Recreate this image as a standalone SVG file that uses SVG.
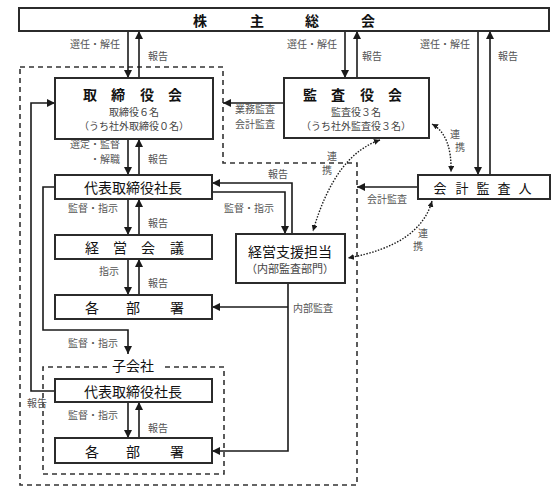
<svg xmlns="http://www.w3.org/2000/svg" width="556" height="493" viewBox="0 0 556 493">
<defs>
<marker id="ah" markerUnits="userSpaceOnUse" markerWidth="9" markerHeight="8" refX="8" refY="4" orient="auto"><path d="M0,0 L8,4 L0,8 z" fill="#1a1a1a"/></marker>
<marker id="dh" markerUnits="userSpaceOnUse" markerWidth="7" markerHeight="6" refX="6" refY="3" orient="auto-start-reverse"><path d="M0,0 L6,3 L0,6 z" fill="#1a1a1a"/></marker>
</defs>
<style>
.box{fill:#fff;stroke:#2b2b2b;stroke-width:2}
.ln{fill:none;stroke:#1a1a1a;stroke-width:1.6}
.ar{marker-end:url(#ah)}
.dash{fill:none;stroke:#333;stroke-width:1.6;stroke-dasharray:5 4}
.dot{fill:none;stroke:#1a1a1a;stroke-width:1.4;stroke-dasharray:1.5 1.5;marker-start:url(#dh);marker-end:url(#dh)}
text{font-family:"Noto Sans CJK JP","Noto Sans",sans-serif;dominant-baseline:central}
.lb{font-size:10px;fill:#555}
.t{font-size:14px;fill:#111;text-anchor:middle}
.tb{font-size:14px;fill:#111;font-weight:bold;text-anchor:middle}
.s{font-size:10px;fill:#444;text-anchor:middle}
.m{text-anchor:middle}
.e{text-anchor:end}
</style>
<g id="regions">
<path class="dash" d="M20,67 H223 V163 H357 V485 H20 Z"/>
<path class="dash" d="M107,367 H43 V474 H224 V367 H163"/>
<text class="t" x="133" y="365">子会社</text>
</g>
<g id="connectors">
<line class="ln ar" x1="128" y1="31" x2="128" y2="78"/>
<line class="ln ar" x1="139" y1="78" x2="139" y2="31"/>
<line class="ln ar" x1="128" y1="139" x2="128" y2="175"/>
<line class="ln ar" x1="139" y1="175" x2="139" y2="139"/>
<line class="ln ar" x1="128" y1="199" x2="128" y2="235"/>
<line class="ln ar" x1="139" y1="235" x2="139" y2="199"/>
<line class="ln ar" x1="128" y1="259" x2="128" y2="295"/>
<line class="ln ar" x1="139" y1="295" x2="139" y2="259"/>
<line class="ln ar" x1="345" y1="31" x2="345" y2="78"/>
<line class="ln ar" x1="357" y1="78" x2="357" y2="31"/>
<line class="ln ar" x1="478" y1="31" x2="478" y2="175"/>
<line class="ln ar" x1="490" y1="175" x2="490" y2="31"/>
<line class="ln ar" x1="284" y1="103" x2="223" y2="103"/>
<line class="ln ar" x1="418" y1="187" x2="357" y2="187"/>
<path class="ln ar" d="M55,391 H31 V103 H55"/>
<path class="ln ar" d="M55,187 H43 V330 H128 V354"/>
<path class="ln ar" d="M292,234 V183 H212"/>
<path class="ln ar" d="M212,192 H285 V234"/>
<path class="ln ar" d="M288,283 V451 H212"/>
<line class="ln ar" x1="288" y1="307" x2="212" y2="307"/>
<line class="ln ar" x1="128" y1="402" x2="128" y2="438"/>
<line class="ln ar" x1="139" y1="438" x2="139" y2="402"/>
<path class="dot" d="M432,124 Q452,135 451,172"/>
<path class="dot" d="M380,140 Q335,155 313,231"/>
<path class="dot" d="M432,201 Q420,245 348,258"/>
<text class="lb e" x="120" y="43">選任・解任</text>
<text class="lb" x="148" y="55">報告</text>
<text class="lb e" x="337" y="43">選任・解任</text>
<text class="lb" x="362" y="55">報告</text>
<text class="lb e" x="470" y="43">選任・解任</text>
<text class="lb" x="498" y="55">報告</text>
<text class="lb" x="235" y="108">業務監査</text>
<text class="lb" x="235" y="123">会計監査</text>
<text class="lb e" x="120" y="143">選定・監督</text>
<text class="lb e" x="120" y="158">・解職</text>
<text class="lb" x="148" y="158">報告</text>
<text class="lb e" x="118" y="207">監督・指示</text>
<text class="lb" x="148" y="222">報告</text>
<text class="lb e" x="119" y="270">指示</text>
<text class="lb" x="148" y="282">報告</text>
<text class="lb" x="268" y="173">報告</text>
<text class="lb" x="224" y="207">監督・指示</text>
<text class="lb" x="367" y="198">会計監査</text>
<text class="lb" x="293" y="307">内部監査</text>
<text class="lb m" x="455" y="133">連</text>
<text class="lb m" x="460" y="146">携</text>
<text class="lb m" x="332" y="155">連</text>
<text class="lb m" x="327" y="169">携</text>
<text class="lb m" x="423" y="232">連</text>
<text class="lb m" x="418" y="245">携</text>
<text class="lb e" x="118" y="342">監督・指示</text>
<text class="lb m" x="37" y="402">報告</text>
<text class="lb e" x="118" y="414">監督・指示</text>
<text class="lb" x="148" y="427">報告</text>
</g>
<g id="shareholders">
<rect class="box" x="19" y="8" width="530" height="23"/>
<text class="tb" x="200 257 312 368" y="19.5">株主総会</text>
</g>
<g id="board">
<rect class="box" x="55" y="78" width="158" height="61"/>
<text class="tb" x="90 118 147 175" y="94">取締役会</text>
<text class="s" x="134" y="111">取締役６名</text>
<text class="s" x="134" y="125">（うち社外取締役０名）</text>
</g>
<g id="auditors">
<rect class="box" x="284" y="78" width="145" height="60"/>
<text class="tb" x="310 338 367 395" y="94">監査役会</text>
<text class="s" x="356" y="111">監査役３名</text>
<text class="s" x="356" y="125">（うち社外監査役３名）</text>
</g>
<g id="president">
<rect class="box" x="55" y="175" width="157" height="24"/>
<text class="t" x="133" y="187">代表取締役社長</text>
</g>
<g id="accounting-auditor">
<rect class="box" x="418" y="175" width="132" height="24"/>
<text class="t" style="font-size:13px" x="440 462 483 504 525" y="187">会計監査人</text>
</g>
<g id="management-meeting">
<rect class="box" x="55" y="235" width="157" height="24"/>
<text class="t" x="92 120 148 177" y="247">経営会議</text>
</g>
<g id="support">
<rect class="box" x="236" y="234" width="109" height="49"/>
<text class="t" x="290" y="251">経営支援担当</text>
<text class="s" style="font-size:11px" x="290" y="268">（内部監査部門）</text>
</g>
<g id="departments">
<rect class="box" x="55" y="295" width="157" height="24"/>
<text class="t" x="92 133 177" y="307">各部署</text>
</g>
<g id="sub-president">
<rect class="box" x="55" y="379" width="157" height="23"/>
<text class="t" x="133" y="391">代表取締役社長</text>
</g>
<g id="sub-departments">
<rect class="box" x="55" y="438" width="157" height="25"/>
<text class="t" x="92 133 177" y="451">各部署</text>
</g>
</svg>
